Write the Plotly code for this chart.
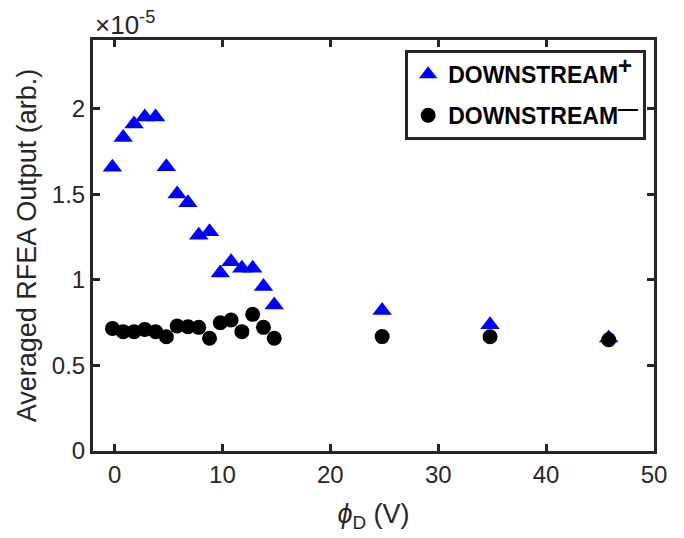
import numpy as np
import plotly.graph_objects as go

SCALE = 1e-5
phi_d = [-0.2, 0.8, 1.8, 2.8, 3.8, 4.8, 5.8, 6.8, 7.8, 8.8, 9.8, 10.8, 11.8, 12.8, 13.8, 14.8, 24.8, 34.8, 45.8]
downstream_plus = [1.657, 1.83, 1.91, 1.95, 1.95, 1.66, 1.50, 1.45, 1.26, 1.28, 1.04, 1.105, 1.067, 1.067, 0.96, 0.853, 0.82, 0.737, 0.66]
downstream_minus = [0.716, 0.697, 0.697, 0.71, 0.697, 0.667, 0.73, 0.726, 0.722, 0.658, 0.749, 0.765, 0.697, 0.798, 0.722, 0.658, 0.668, 0.667, 0.65]
y_tick_vals = [0, 0.5, 1, 1.5, 2]
y_tick_text = ["0", "0.5", "1", "1.5", "2"]
x_tick_vals = [0, 10, 20, 30, 40, 50]

AXC = "#262626"
FONT = "Liberation Sans, Arial, sans-serif"

fig = go.Figure()
fig.add_trace(go.Scatter(
    x=phi_d, y=np.array(downstream_plus) * SCALE, mode="markers",
    name="<b>DOWNSTREAM<sup><span style='font-size:24px'>+</span></sup></b>", legendgroup="a",
    marker=dict(symbol="triangle-up", size=17, color="#0000ff", line=dict(width=0)),
))
fig.add_trace(go.Scatter(
    x=phi_d, y=np.array(downstream_minus) * SCALE, mode="markers",
    name="<b>DOWNSTREAM<sup><span style='font-size:20px'>—</span></sup></b>", legendgroup="b",
    marker=dict(symbol="circle", size=15, color="#000000", line=dict(width=0)),
))

fig.update_layout(
    width=684, height=538,
    margin=dict(l=93, r=30, t=40, b=87),
    paper_bgcolor="white", plot_bgcolor="white",
    font=dict(family=FONT, size=24, color=AXC),
    showlegend=True,
    legend=dict(
        x=0.986, y=0.976, xanchor="right", yanchor="top",
        bordercolor=AXC, borderwidth=3, bgcolor="white",
        font=dict(family=FONT, size=23, color="black"),
        tracegroupgap=8, traceorder="grouped",
    ),
    xaxis=dict(
        range=[-2, 50], tickvals=x_tick_vals, ticks="inside", ticklen=7, tickwidth=2.5,
        tickcolor=AXC, showline=True, linecolor=AXC, linewidth=3, mirror="ticks",
        showgrid=False, zeroline=False, tickfont=dict(size=24, color=AXC),
        title=dict(text="<i>ϕ</i><sub>D</sub> (V)", font=dict(size=27, color=AXC), standoff=18),
    ),
    yaxis=dict(
        range=[0, 2.4 * SCALE], tickvals=[v * SCALE for v in y_tick_vals], ticktext=y_tick_text,
        ticks="inside", ticklen=7, tickwidth=2.5, tickcolor=AXC,
        showline=True, linecolor=AXC, linewidth=3, mirror="ticks",
        showgrid=False, zeroline=False, tickfont=dict(size=24, color=AXC),
        title=dict(text="Averaged RFEA Output (arb.)", font=dict(size=27, color=AXC), standoff=8),
    ),
)
fig.add_annotation(
    xref="paper", yref="paper", x=0.0, y=1.0, xanchor="left", yanchor="bottom",
    text="×10<sup>-5</sup>", showarrow=False, font=dict(family=FONT, size=26, color=AXC), yshift=-2,
)
fig.write_html("out.html")
